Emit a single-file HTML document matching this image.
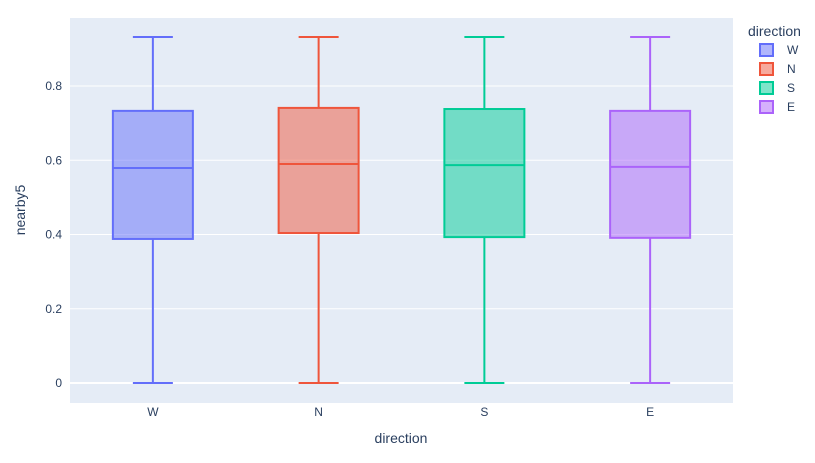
<!DOCTYPE html>
<html><head><meta charset="utf-8"><style>
body{margin:0;background:#fff;font-family:"Liberation Sans",Arial,sans-serif;}
svg text{font-family:"Liberation Sans",Arial,sans-serif;fill:#2a3f5f;}
</style></head><body>
<svg id="chart" width="815" height="458" xmlns="http://www.w3.org/2000/svg">
<rect x="70" y="18" width="663" height="385" fill="#e5ecf6"/>
<g id="grid"></g><g id="boxes"></g><g id="axes"></g><g id="legend"></g>
<text x="401" y="443" font-size="14" text-anchor="middle">direction</text>
<text x="0" y="0" font-size="14" text-anchor="middle" transform="translate(25,210) rotate(-90)">nearby5</text>
</svg>
<script>
const categories=["W","N","S","E"];
const colors=["#636efa","#EF553B","#00cc96","#ab63fa"];
const mins=[0,0,0,0];
const q1s=[0.388,0.404,0.393,0.391];
const medians=[0.579,0.590,0.587,0.582];
const q3s=[0.733,0.741,0.738,0.733];
const maxs=[0.932,0.932,0.932,0.932];
const yTicks=[0,0.2,0.4,0.6,0.8];
const tickLabels=["0","0.2","0.4","0.6","0.8"];
const NS="http://www.w3.org/2000/svg";
const X0=70,W=663,Y0=383,K=371.25;
function y(v){return Y0-v*K;}
function x(i){return X0+W/categories.length*(i+0.5);}
function mk(tag,attrs,parent){const e=document.createElementNS(NS,tag);for(const k in attrs)e.setAttribute(k,attrs[k]);document.getElementById(parent).appendChild(e);return e;}
yTicks.forEach((t,i)=>{
  const l=mk('line',{x1:70,x2:733,y1:y(t),y2:y(t),stroke:'#fff','stroke-width':i==0?2:1},'grid');
  
  
  const tx=mk('text',{x:62,y:y(t)+4,'font-size':12,'text-anchor':'end'},'axes');
  tx.textContent=tickLabels[i];
  
  
});
categories.forEach((c,i)=>{
  const cx=x(i),hw=40,cw=20,col=colors[i];
  const g=mk('g',{},'boxes');
  
  
  const add=(tag,a)=>{const e=document.createElementNS(NS,tag);for(const k in a)e.setAttribute(k,a[k]);g.appendChild(e);return e;};
  add('line',{x1:cx,x2:cx,y1:y(maxs[i]),y2:y(q3s[i]),stroke:col,'stroke-width':2});
  add('line',{x1:cx,x2:cx,y1:y(q1s[i]),y2:y(mins[i]),stroke:col,'stroke-width':2});
  add('line',{x1:cx-cw,x2:cx+cw,y1:y(maxs[i]),y2:y(maxs[i]),stroke:col,'stroke-width':2});
  add('line',{x1:cx-cw,x2:cx+cw,y1:y(mins[i]),y2:y(mins[i]),stroke:col,'stroke-width':2});
  add('rect',{x:cx-hw,y:y(q3s[i]),width:2*hw,height:y(q1s[i])-y(q3s[i]),fill:col,'fill-opacity':0.5,stroke:col,'stroke-width':2});
  add('line',{x1:cx-hw,x2:cx+hw,y1:y(medians[i]),y2:y(medians[i]),stroke:col,'stroke-width':2});
  const tx=mk('text',{x:cx,y:416,'font-size':12,'text-anchor':'middle'},'axes');
  tx.textContent=c;
  
  
});
const lt=mk('text',{x:748,y:36,'font-size':14},'legend');
lt.textContent='direction';


categories.forEach((c,i)=>{
  const yy=50+i*19;
  const g=mk('g',{},'legend');
  
  
  const r=document.createElementNS(NS,'rect');
  [['x',760],['y',yy-6],['width',13],['height',12],['fill',colors[i]],['fill-opacity',0.5],['stroke',colors[i]],['stroke-width',2]].forEach(a=>r.setAttribute(a[0],a[1]));
  g.appendChild(r);
  const t=document.createElementNS(NS,'text');
  t.setAttribute('x',787);t.setAttribute('y',yy+4);t.setAttribute('font-size',12);
  t.textContent=c;g.appendChild(t);
});
</script>
</body></html>
